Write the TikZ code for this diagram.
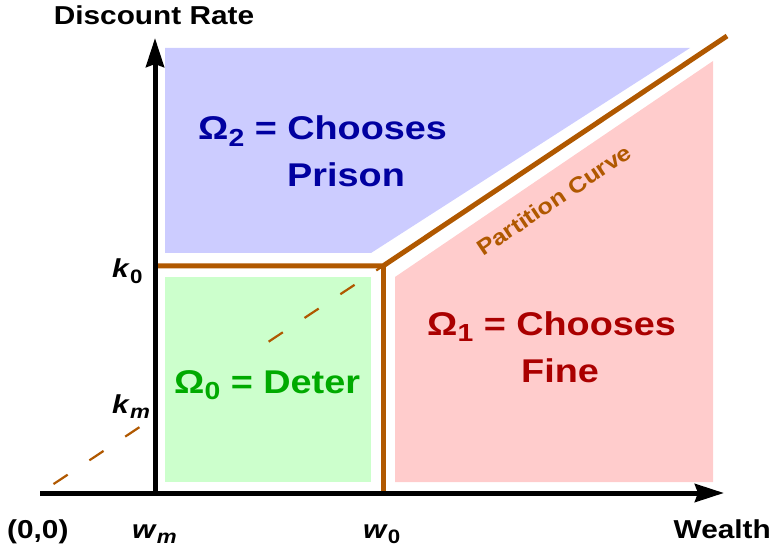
\documentclass[tikz,border=0pt]{standalone}
\usepackage{fontspec}
\setmainfont{Liberation Sans}
\usetikzlibrary{arrows.meta}
\definecolor{brn}{RGB}{176,88,0}
\definecolor{blufill}{RGB}{204,204,255}
\definecolor{grnfill}{RGB}{204,255,204}
\definecolor{pnkfill}{RGB}{255,204,204}
\definecolor{blutxt}{RGB}{0,0,160}
\definecolor{redtxt}{RGB}{170,0,0}
\definecolor{grntxt}{RGB}{0,170,0}
\newcommand{\hx}[1]{\scalebox{1.15}[1]{#1}}
\newcommand{\lsub}[1]{\raisebox{-0.2em}{\scalebox{0.75}{#1}}}
\begin{document}
\begin{tikzpicture}[x=1bp,y=-1bp,
  axislbl/.style={font=\fontsize{26}{30}\selectfont\bfseries, inner sep=0pt, text=black},
  reglbl/.style={font=\fontsize{33}{38}\selectfont\bfseries, inner sep=0pt},
  axisline/.style={line width=5bp, -{Stealth[length=29bp,width=18bp,inset=3bp]}},
  partline/.style={draw=brn, line width=5bp},
  dashline/.style={draw=brn, line width=2.2bp, dash pattern=on 17bp off 26bp, dash phase=26.8bp},
]
\useasboundingbox (0,0) rectangle (774,550);
% named points
\coordinate (O) at (40,493);
\coordinate (ytop) at (155,38);
\coordinate (ybot) at (155,493);
\coordinate (xend) at (724,493);
\coordinate (kz) at (155,266);
\coordinate (C) at (383,266);
\coordinate (wz) at (383,493);
\coordinate (pend) at (727,36);
% regions
\fill[blufill] (165,48) -- (690,48) -- (371,253) -- (165,253) -- cycle;
\fill[grnfill] (165,277) rectangle (371,482);
\fill[pnkfill] (395,277) -- (713,61) -- (713,482) -- (395,482) -- cycle;
% dashed line
\draw[dashline] (O) -- (C);
% background of the Deter label (hides the dashed line)
\fill[white] (157.5,346) rectangle (165,414);
\fill[grnfill] (165,346) rectangle (364,414);
% partition curve
\draw[partline, line join=miter] (kz) -- (C) -- (pend);
\draw[partline] (C) -- (wz);
% axes
\draw[axisline] (ybot) -- (ytop);
\draw[axisline] (O) -- (xend);
% axis labels
\node[axislbl, anchor=base] (ylab) at (154,25) {\hx{Discount Rate}};
\node[axislbl, anchor=base west] (k0) at (112,278) {\hx{\textit{k}\lsub{0}}};
\node[axislbl, anchor=base west] (km) at (112,413) {\hx{\textit{k}\lsub{\textit{m}}}};
\node[axislbl, anchor=base west] (orig) at (7,538) {\hx{(0,0)}};
\node[axislbl, anchor=base west] (wm) at (132,538) {\hx{\textit{w}\lsub{\textit{m}}}};
\node[axislbl, anchor=base west] (w0) at (363,538) {\hx{\textit{w}\lsub{0}}};
\node[axislbl, anchor=base east] (xlab) at (771,538) {\hx{Wealth}};
% region labels
\node[reglbl, text=blutxt, anchor=base west] (o2a) at (198,140) {\hx{Ω\lsub{2} = Chooses}};
\node[reglbl, text=blutxt, anchor=base west] (o2b) at (287,187) {\hx{Prison}};
\node[reglbl, text=redtxt, anchor=base west] (o1a) at (427,335) {\hx{Ω\lsub{1} = Chooses}};
\node[reglbl, text=redtxt, anchor=base west] (o1b) at (521,382) {\hx{Fine}};
\node[reglbl, text=grntxt, anchor=base west] (o0) at (174,393) {\hx{Ω\lsub{0} = Deter}};
\node[font=\fontsize{22}{26}\selectfont\bfseries, text=brn, rotate=33.8, inner sep=0pt] (pc) at (554,200) {\hx{Partition Curve}};
\end{tikzpicture}
\end{document}
